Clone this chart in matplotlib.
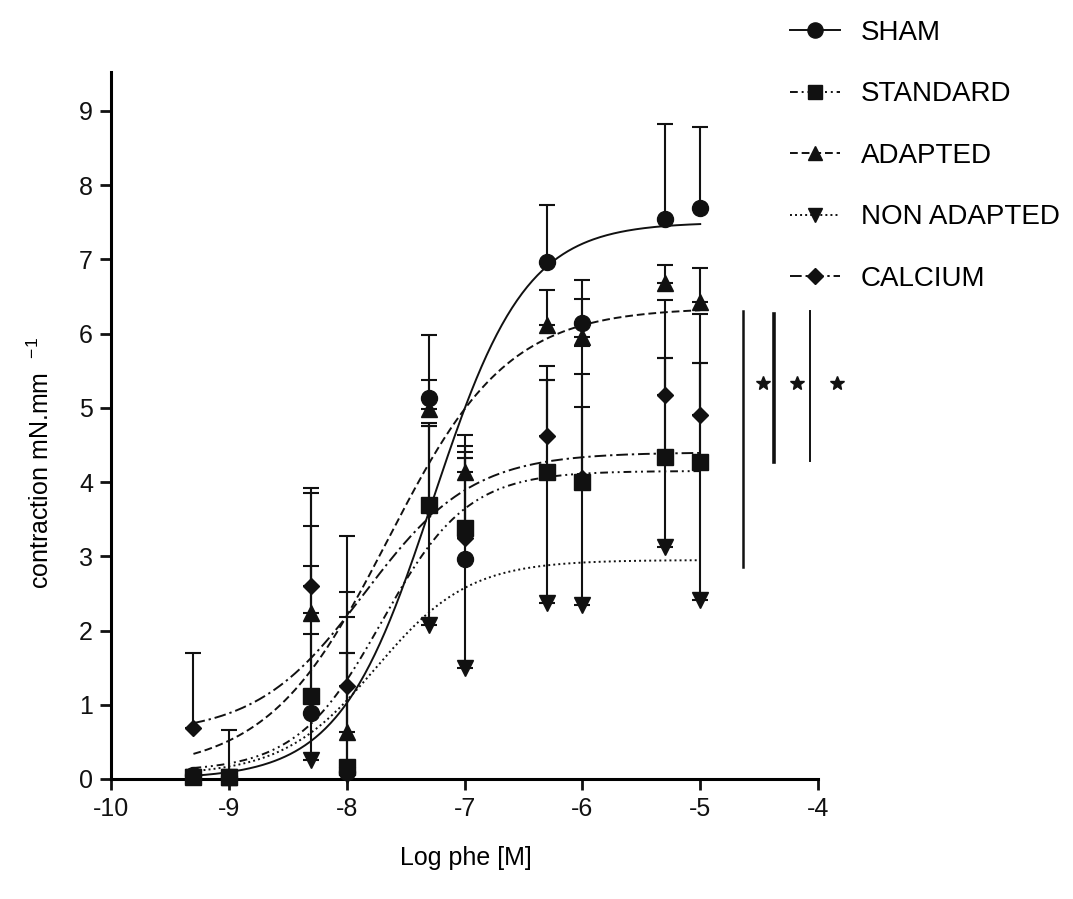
import numpy as np
import matplotlib
matplotlib.use("Agg")
import matplotlib.pyplot as plt
from matplotlib.lines import Line2D

plt.rcParams['font.family'] = ['Liberation Sans', 'DejaVu Sans']
plt.rcParams['axes.unicode_minus'] = False
plt.rcParams['mathtext.fontset'] = 'custom'
plt.rcParams['mathtext.rm'] = 'Liberation Sans'
plt.rcParams['mathtext.it'] = 'Liberation Sans'

# ---------------- data ----------------
log_phe = [-9.3, -9.0, -8.3, -8.0, -7.3, -7.0, -6.3, -6.0, -5.3, -5.0]

groups = ["SHAM", "STANDARD", "ADAPTED", "NON ADAPTED", "CALCIUM"]

sham_mean      = [0.05, 0.02, 0.89, 0.10, 5.13, 2.97, 6.96, 6.14, 7.55, 7.69]
sham_err       = [0.00, 0.00, 1.98, 1.60, 0.85, 1.36, 0.77, 0.58, 1.28, 1.09]

standard_mean  = [0.03, 0.02, 1.12, 0.16, 3.69, 3.38, 4.13, 4.00, 4.34, 4.27]
standard_err   = [0.00, 0.64, 2.29, 2.02, 1.06, 1.11, 1.24, 1.46, 1.33, 1.33]

adapted_mean   = [0.05, 0.03, 2.24, 0.63, 4.99, 4.13, 6.11, 5.95, 6.68, 6.42]
adapted_err    = [0.00, 0.00, 1.61, 1.89, 0.38, 0.50, 0.48, 0.51, 0.24, 0.47]

nonadapted_mean = [0.02, 0.02, 0.26, 0.05, 2.07, 1.49, 2.37, 2.34, 3.12, 2.41]
nonadapted_err  = [0.00, 0.00, 1.69, 1.65, 2.68, 2.84, 3.00, 2.67, 2.55, 3.19]

calcium_mean   = [0.69, 0.03, 2.60, 1.25, 3.65, 3.24, 4.62, 4.05, 5.18, 4.90]
calcium_err    = [1.01, 0.00, 1.32, 2.03, 1.15, 1.16, 0.94, 1.78, 1.27, 1.37]

# sigmoid fit parameters: bottom, top, logEC50, hill slope
sham_fit       = [0.00, 7.50, -7.27, 1.10]
standard_fit   = [0.10, 4.15, -7.70, 1.20]
adapted_fit    = [0.10, 6.35, -7.65, 0.85]
nonadapted_fit = [0.05, 2.95, -7.75, 1.10]
calcium_fit    = [0.60, 4.40, -7.85, 0.95]

# significance bars: x, y_low, y_high ; stars: x, y
sig_x    = [-4.64, -4.37, -4.07]
sig_low  = [2.85, 4.27, 4.29]
sig_high = [6.31, 6.26, 6.31]
star_x   = [-4.47, -4.18, -3.84]
star_y   = [5.33, 5.33, 5.33]

x_ticks = [-10, -9, -8, -7, -6, -5, -4]
y_ticks = [0, 1, 2, 3, 4, 5, 6, 7, 8, 9]

# ---------------- styles ----------------
means = [sham_mean, standard_mean, adapted_mean, nonadapted_mean, calcium_mean]
errs = [sham_err, standard_err, adapted_err, nonadapted_err, calcium_err]
fits = [sham_fit, standard_fit, adapted_fit, nonadapted_fit, calcium_fit]
markers = ['o', 's', '^', 'v', 'D']
msizes = [11.5, 11, 11, 11, 8.5]
lstyles = ['-', (0, (4, 2, 1, 2, 1, 2)), (0, (4, 2)), (0, (1, 1.6)), (0, (6, 2, 1.2, 2))]
col = '#111111'

fig = plt.figure(figsize=(10.73, 8.99), dpi=100)
ax = fig.add_axes([0.1034, 0.1335, 0.659, 0.786])

xs = np.linspace(log_phe[0], log_phe[-1], 300)

# error bars (upward)
for m, e in zip(means, errs):
    ax.errorbar(log_phe, m, yerr=[np.zeros(len(e)), e], fmt='none',
                ecolor=col, elinewidth=1.5, capsize=6, capthick=1.5, zorder=2)

handles = []
for name, m, f, mk, ms, ls in zip(groups, means, fits, markers, msizes, lstyles):
    b, t, ec, h = f
    ys = b + (t - b) / (1 + 10 ** ((ec - xs) * h))
    ax.plot(xs, ys, color=col, lw=1.4, ls=ls, zorder=3)
    ax.plot(log_phe, m, ls='none', marker=mk, ms=ms, color=col, mec=col,
            zorder=4, clip_on=False)
    handles.append(Line2D([], [], color=col, lw=1.4, ls=ls, marker=mk,
                          ms=ms * 0.95, label=name))

# significance lines and stars
for x, lo, hi, lw in zip(sig_x, sig_low, sig_high, [1.8, 2.6, 1.4]):
    ax.plot([x, x], [lo, hi], color=col, lw=lw, clip_on=False, zorder=3)
ax.plot(star_x, star_y, ls='none', marker='*', ms=10, color=col, clip_on=False)

ax.set_xlim(-10, -4)
ax.set_ylim(0, 9.52)
ax.set_xticks(x_ticks)
ax.set_xticklabels([str(v) for v in x_ticks])
ax.set_yticks(y_ticks)
ax.set_yticklabels([str(v) for v in y_ticks])
for s in ['top', 'right']:
    ax.spines[s].set_visible(False)
for s in ['left', 'bottom']:
    ax.spines[s].set_linewidth(2.2)
ax.tick_params(axis='both', direction='out', length=8, width=2.0,
               labelsize=18, colors='#111111', pad=5)

fig.text(0.434, 0.046, "Log phe [M]", ha='center', va='center', fontsize=18)
fig.text(0.038, 0.485, r"contraction mN.mm$\ \ ^{-1}$", rotation=90,
         ha='center', va='center', fontsize=18)

leg = fig.legend(handles=handles, loc='upper left',
                 bbox_to_anchor=(0.736, 0.978), frameon=False, fontsize=20,
                 handlelength=1.8, handletextpad=0.75, labelspacing=1.28,
                 borderpad=0, borderaxespad=0)

fig.savefig("out.png", dpi=100)
